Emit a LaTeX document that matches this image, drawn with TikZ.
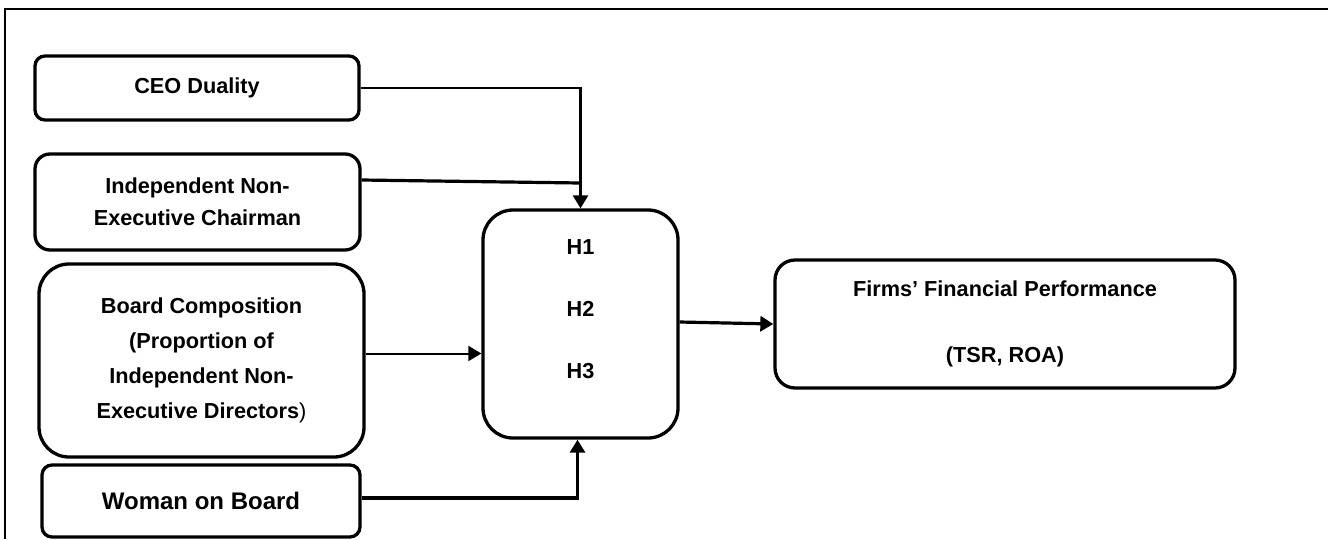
\documentclass[tikz,border=0pt]{standalone}
\usepackage{fontspec}
\setmainfont{Liberation Sans}
\usetikzlibrary{arrows.meta}
\begin{document}
\begin{tikzpicture}[x=1pt,y=-1pt,
    factor/.style ={rectangle, draw, line width=3.3pt, rounded corners=#1, align=center, inner sep=0pt,
      font=\bfseries\fontsize{21.7}{26}\selectfont},
    factor/.default=12pt,
    link/.style ={line width=3.2pt, -{Triangle[length=13pt,width=15pt]}}]
   \useasboundingbox (0,0) rectangle (1328,539);
   \draw[line width=2pt] (5,539) |- (1328,9);
   % independent variables
   \node[factor=10pt, minimum width=324pt, minimum height=64pt] (ceo) at (197,88) {CEO Duality};
   \node[factor=15pt, minimum width=325pt, minimum height=96pt] (chair) at (197.5,202)
      {Independent Non-\\[6pt]Executive Chairman};
   \node[factor=30pt, minimum width=325pt, minimum height=193pt] (board) at (201.5,360.5)
      {Board Composition\\[9pt](Proportion of\\[9pt]Independent Non-\\[9pt]Executive Directors\textmd{)}};
   \node[factor=10pt, minimum width=318pt, minimum height=72pt, font=\bfseries\fontsize{24}{29}\selectfont]
      (woman) at (201,501) {Woman on Board};
   % hypotheses and outcome
   \node[factor=30pt, minimum width=195pt, minimum height=228pt] (hyp) at (580.5,324)
      {H1\\[36pt]H2\\[36pt]H3\\[3pt]\mbox{}};
   \node[factor=20pt, minimum width=460pt, minimum height=128pt] (perf) at (1005,324)
      {Firms’ Financial Performance\\[40pt](TSR, ROA)};
   \coordinate (merge) at (580.5,183);
   \draw[link, line width=2.8pt] (ceo.east) -| (hyp.north);
   \draw[line width=3.2pt] ([yshift=22pt]chair.east) -- (merge);
   \draw[link, line width=2pt] ([yshift=7pt]board.east) -- ([yshift=7pt]board.east -| hyp.west);
   \draw[link] ([yshift=3pt]woman.east) -| ([xshift=-3pt]hyp.south);
   \draw[link] ([yshift=2pt]hyp.east) -- (perf.west);
\end{tikzpicture}
\end{document}
